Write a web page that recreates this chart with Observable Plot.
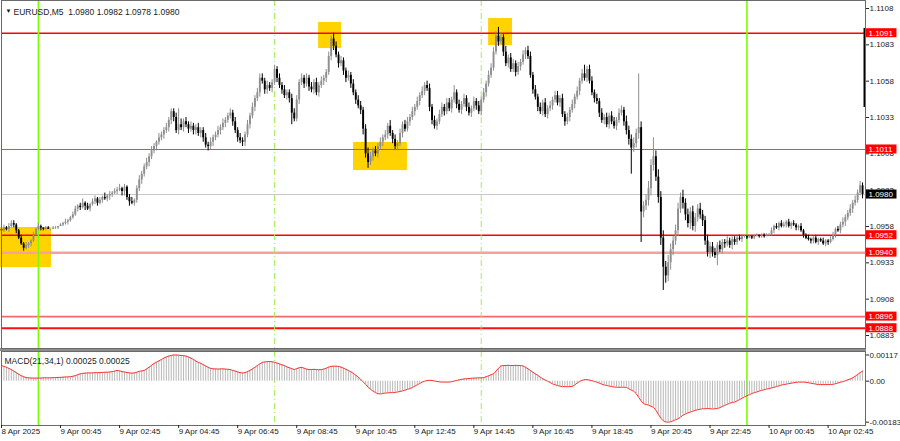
<!DOCTYPE html>
<html>
<head>
<meta charset="utf-8">
<script src="https://cdn.jsdelivr.net/npm/d3@7"></script>
<script src="https://cdn.jsdelivr.net/npm/@observablehq/plot@0.6"></script>
<style>
  html, body { margin: 0; padding: 0; background: #fff; }
  #wrap { width: 900px; height: 441px; overflow: hidden; position: relative; }
  #sep { width: 866px; height: 3px; background: #8c8c8c; }
  svg { display: block; }
</style>
</head>
<body>
<div id="wrap"></div>
<script>
// ---------- DATA ----------
const symbolTitle = "EURUSD,M5  1.0980 1.0982 1.0978 1.0980";
const macdTitle = "MACD(21,34,1) 0.00025 0.00025";
const priceBase = 1.0900;   // closes below are pips above this base (1 pip = 0.0001)
const firstOpen = 56;
// 5-minute closes, bar 0 = 8 Apr 22:45
const closes = [
  55,57,56,58,60,59,55,50,46,43,45,46,48,52,56,58,
  57,56,57,56,56,57,57,58,59,
  60,61,62,64,66,70,72,71,
  74,72,70,73,75,77,74,76,78,77,79,80,
  81,82,83,84,82,85,
  78,75,74,76,
  84,90,94,99,102,106,110,113,
  116,119,121,124,126,
  131,137,133,
  124,128,126,130,128,125,127,124,126,122,124,
  119,114,113,116,
  119,121,124,126,129,131,134,136,
  130,124,119,117,116,
  121,128,134,140,146,150,
  160,
  158,152,155,153,157,
  166,
  160,155,152,148,150,146,
  136,132,
  145,157,160,
  156,160,154,152,157,150,155,158,160,164,
  175,187,182,
  176,170,172,165,160,162,156,
  150,145,141,138,
  125,108,102,
  106,110,108,113,116,119,121,127,
  122,118,113,115,
  122,128,125,130,
  133,137,140,144,148,151,155,153,
  140,131,127,130,
  135,140,137,143,139,145,150,142,
  138,142,146,140,136,139,144,141,137,
  145,150,156,162,167,
  178,189,185,188,
  178,170,174,166,170,164,168,171,
  176,179,175,
  162,152,147,
  140,137,143,135,139,141,
  145,148,143,146,
  135,130,133,
  138,142,147,151,
  158,163,160,166,
  158,150,146,144,
  136,131,133,128,134,130,127,131,
  136,138,130,
  124,118,112,115,
  122,126,
  68,
  72,76,84,
  100,106,
  92,78,
  50,
  30,24,33,
  42,48,55,
  70,78,74,
  66,60,68,58,64,
  70,66,62,
  48,40,
  44,40,38,45,42,47,
  46,48,45,49,47,50,49,51,
  51,50,51,50,51,52,51,52,51,52,52,
  55,58,57,60,58,59,61,58,60,59,57,58,
  55,52,50,49,
  48,50,47,49,48,46,48,47,49,
  52,56,55,59,61,64,67,
  70,74,76,81,86,80
];
// upper / lower wick lengths beyond the body, pips
const wickUp = [
  1,2,1,2,2,1,1,1,2,1, 2,1,1,2,1,2,1,0,1,1, 0,1,1,0,1,1,2,1,1,2, 2,1,2,3,1,2,1,2,2,1,
  2,1,3,1,2,1,2,2,3,1, 2,1,2,3,1,2,3,2,2,3, 2,3,2,1,3,2,2,3,2,2, 2,3,2,4,2,3,2,3,2,2,
  3,2,2,3,2,3,2,2,3,2, 3,2,2,3,2,3,2,3,2,2, 3,2,3,2,3,2,3,2,3,2, 2,3,2,3,2,3,2,2,3,3,
  3,2,3,2,3,2,3,2,3,2, 3,2,2,3,2,2,3,2,3,2, 2,3,2,3,2,3,3,2,3,4, 3,2,3,2,3,2,3,2,4,2,
  3,2,3,2,3,3,2,3,2,3, 2,3,2,3,3,2,3,2,3,3, 2,3,3,2,3,2,3,2,3,2, 3,2,3,2,3,2,3,2,3,3,
  3,3,2,3,2,4,2,3,3,2, 3,2,3,2,3,3,2,3,2,3, 2,3,2,3,2,3,3,2,3,2, 3,2,3,2,3,2,3,3,2,3,
  3,2,3,2,3,2,3,2,3,3, 2,3,3,2,4,3,3,4,3,3, 4,3,4,5,4,3,4,5,4,5, 4,5,4,3,4,4,3,4,3,4,
  3,4,3,3,4,3,3,4,3,3, 3,2,3,2,2,3,2,2,2,1, 2,1,1,1,1,0,1,1,0,1, 1,1,1,2,1,2,1,2,2,1,
  2,1,2,1,1,2,1,1,2,1, 1,2,1,1,2,1,1,2,2,1, 2,2,3,2,2,3,2,3,2,3,2
];
const wickDn = [
  2,1,1,2,1,2,2,1,1,2, 1,2,2,1,1,1,2,1,1,0, 1,0,1,1,0,1,1,2,1,1, 1,2,2,1,3,1,2,1,2,2,
  1,2,1,2,3,2,1,2,1,3, 3,2,3,1,2,2,2,3,2,2, 3,2,2,3,2,2,3,2,3,3, 3,2,3,2,3,2,3,2,3,3,
  2,3,3,2,3,2,3,2,2,3, 2,3,2,2,3,2,3,2,3,3, 2,3,2,3,2,3,2,3,3,2, 3,2,3,2,3,2,3,3,2,2,
  2,3,2,3,2,3,2,3,2,3, 2,3,3,2,3,3,2,3,2,3, 3,2,3,2,3,2,3,4,3,3, 2,3,2,3,2,3,2,3,2,3,
  2,3,2,3,2,2,3,2,3,2, 3,2,3,2,3,3,2,3,2,2, 3,2,2,3,2,3,2,3,2,3, 2,3,2,3,2,3,2,3,2,2,
  2,2,3,2,3,2,3,2,2,3, 2,3,2,3,2,2,3,2,3,2, 3,2,3,2,3,2,2,3,2,3, 2,3,2,3,2,3,2,2,3,2,
  2,3,2,3,2,3,2,3,2,2, 3,2,2,3,3,4,3,3,3,4, 3,4,3,4,5,4,3,4,5,4, 5,4,5,4,3,4,3,4,4,3,
  4,3,4,3,3,4,3,3,4,3, 2,3,2,3,3,2,2,3,2,2, 1,2,1,1,0,1,1,0,1,1, 1,0,1,1,2,1,2,1,1,2,
  1,2,1,2,2,1,2,1,1,2, 2,1,2,1,1,2,2,1,1,2, 1,2,2,3,2,2,3,2,2,2,3
];
// [bar, pip] long wicks
const highSpikes = [[5,62],[70,139],[72,139],[105,163],[111,169],[135,191],[184,155],[202,195],[237,169],[259,163],[265,119],[277,83]];
const lowSpikes  = [[9,41],[118,128],[149,98],[256,94],[260,47],[269,14],[291,31]];

// MACD main = signal (period 1), units of 0.00001
const macd = [
  70,66,62,57,52,45,38,31,25,20,
  16,15,14,14,14,14,14,15,15,15,
  15,16,16,17,17,18,19,19,20,22,
  25,29,33,35,36,37,37,37,38,38,
  39,39,40,40,41,43,45,48,46,43,
  41,39,37,36,37,40,44,46,48,55,
  63,71,79,85,91,97,103,108,112,115,
  117,117,116,115,114,112,108,103,97,90,
  84,80,74,68,62,57,55,55,54,55,
  55,54,53,52,48,45,41,38,37,38,
  43,48,55,62,70,77,84,86,87,88,
  87,84,81,77,73,70,64,60,56,52,
  56,60,62,58,54,52,52,53,52,51,
  52,54,58,63,66,67,67,66,63,58,
  53,48,42,35,27,18,8,-3,-14,-27,
  -36,-44,-51,-56,-57,-55,-53,-52,-51,-51,
  -50,-48,-46,-43,-40,-36,-33,-28,-22,-16,
  -10,-4,0,3,4,3,1,-1,-3,-4,
  -4,-4,-4,-2,1,3,6,8,10,11,
  12,13,14,14,15,15,16,20,24,29,
  33,45,58,68,70,70,71,70,70,71,
  70,70,68,62,55,48,40,33,26,18,
  11,5,0,-6,-12,-16,-19,-22,-24,-24,
  -25,-24,-23,-17,-8,-1,4,7,7,5,
  2,-1,-4,-9,-13,-17,-19,-22,-24,-26,
  -27,-27,-27,-27,-28,-34,-40,-45,-55,-72,
  -88,-101,-104,-107,-112,-116,-130,-148,-165,-177,
  -182,-183,-181,-177,-172,-168,-160,-152,-146,-141,
  -138,-134,-130,-127,-125,-123,-123,-122,-123,-124,
  -123,-122,-118,-113,-108,-103,-98,-95,-93,-88,
  -82,-76,-70,-65,-60,-55,-51,-48,-44,-41,
  -38,-35,-33,-30,-27,-24,-21,-17,-15,-13,
  -11,-9,-7,-5,-4,-4,-4,-5,-7,-9,
  -11,-13,-15,-15,-15,-15,-15,-15,-14,-11,
  -8,-5,-2,2,6,10,15,22,30,38,45
];

const priceTicks = [1.1108,1.1083,1.1058,1.1033,1.1008,1.0983,1.0958,1.0933,1.0908,1.0883];
const levelPrices = [1.1091,1.1011,1.0952,1.0940,1.0896,1.0888];
const currentPrice = 1.0980;
const macdTicks = [117, 0, -183];
const macdTickLabels = ["0.00117", "0.00", "-0.00183"];

const timeTickBars = [0,24,48,72,96,120,144,168,192,216,240,264,288,312,336];
const timeLabels = ["8 Apr 2025","9 Apr 00:45","9 Apr 02:45","9 Apr 04:45","9 Apr 06:45","9 Apr 08:45",
  "9 Apr 10:45","9 Apr 12:45","9 Apr 14:45","9 Apr 16:45","9 Apr 18:45","9 Apr 20:45","9 Apr 22:45",
  "10 Apr 00:45","10 Apr 02:45"];
const daySeparatorBars = [15, 303];      // 00:00
const sessionBars = [111, 195];          // dashed markers
// highlight boxes: [bar1, bar2, pip1, pip2]
const boxes = [[-0.4,20.3,57.3,29.8],[128.9,138.2,198.4,180.5],[143.1,165,115.8,96.5],[198,207.7,201.1,182.5]];
const edgeBar = [194.2, 139.9];          // black marker at right edge (pips)

// ---------- STYLES ----------
const levelColors = ["#ff0000","#f04040","#ff0000","#f7a0a0","#f46a6a","#ff1010"];
const levelWidths = [1.6,1,1.6,2.5,1.6,2.2];
const upColor = "#8e8e8e", downColor = "#000000";
const font = "'Liberation Sans', Arial, sans-serif";

// ---------- BUILD ----------
const toPrice = p => priceBase + p / 10000;
const xMax = 351.2;
const candles = closes.map((c, i) => {
  const o = i === 0 ? firstOpen : closes[i - 1];
  let hi = Math.max(o, c) + wickUp[i], lo = Math.min(o, c) - wickDn[i];
  for (const [k, v] of highSpikes) if (k === i) hi = Math.max(hi, v);
  for (const [k, v] of lowSpikes) if (k === i) lo = Math.min(lo, v);
  return {i, open: toPrice(o), close: toPrice(c), high: toPrice(hi), low: toPrice(lo), up: c >= o};
});
const levels = levelPrices.map((p, k) => ({p, color: levelColors[k], w: levelWidths[k], label: p.toFixed(4)}));
const boxData = boxes.map(([a, b, p1, p2]) => ({x1: a, x2: b, y1: toPrice(p1), y2: toPrice(p2)}));
const macdData = macd.map((v, i) => ({i, v}));

const tagHalf = 0.00031;
const tagX1 = xMax + 0.4, tagX2 = xMax + 12.8;

const pricePlot = Plot.plot({
  width: 900, height: 348,
  marginLeft: 1, marginRight: 35, marginTop: 0, marginBottom: 0,
  style: {fontFamily: font, fontSize: "8px", color: "#222", background: "#fff", overflow: "visible"},
  x: {domain: [0, xMax], axis: null},
  y: {domain: [1.0874059, 1.1113505], axis: null},
  marks: [
    Plot.rect(boxData, {x1: "x1", x2: "x2", y1: "y1", y2: "y2", fill: "#ffd200"}),
    Plot.ruleY([currentPrice], {stroke: "#c8c8c8", strokeWidth: 1}),
    Plot.ruleY(levels, {y: "p", stroke: "color", strokeWidth: "w"}),
    Plot.ruleX(daySeparatorBars, {stroke: "#7cfc00", strokeWidth: 1.6}),
    Plot.ruleX(sessionBars, {stroke: "#a6ec5a", strokeWidth: 1, strokeDasharray: "6,3,1,3"}),
    Plot.ruleX(candles, {x: "i", y1: "low", y2: "high", stroke: d => d.up ? upColor : downColor, strokeWidth: 1}),
    Plot.ruleX(candles, {x: "i", y1: "open", y2: "close", stroke: d => d.up ? upColor : downColor, strokeWidth: 1.9}),
    Plot.ruleX([xMax - 0.4], {y1: toPrice(edgeBar[0]), y2: toPrice(edgeBar[1]), stroke: "#000", strokeWidth: 2}),
    Plot.frame({stroke: "#6a6a6a", strokeWidth: 1}),
    Plot.axisY(priceTicks, {anchor: "right", tickSize: 3, tickPadding: 1, textAnchor: "start",
      tickFormat: d => d.toFixed(4), fontSize: 8, label: null}),
    Plot.rect([currentPrice], {x1: tagX1, x2: tagX2, y1: d => d - tagHalf, y2: d => d + tagHalf, fill: "#000"}),
    Plot.text([currentPrice], {x: tagX1, y: d => d, text: d => d.toFixed(4), fill: "#fff", textAnchor: "start", dx: 2, fontSize: 8}),
    Plot.rect(levels, {x1: tagX1, x2: tagX2, y1: d => d.p - tagHalf, y2: d => d.p + tagHalf, fill: "#ff0000"}),
    Plot.text(levels, {x: tagX1, y: "p", text: "label", fill: "#fff", textAnchor: "start", dx: 2, fontSize: 8}),
    Plot.text(["▼"], {frameAnchor: "top-left", dx: 4, dy: 8, text: d => d, fontSize: 6, fill: "#111", textAnchor: "start"}),
    Plot.text([symbolTitle], {frameAnchor: "top-left", dx: 12, dy: 8, text: d => d, fontSize: 8.5, fill: "#222", textAnchor: "start"})
  ]
});

const macdPlot = Plot.plot({
  width: 900, height: 90,
  marginLeft: 1, marginRight: 35, marginTop: 0, marginBottom: 16,
  style: {fontFamily: font, fontSize: "8px", color: "#222", background: "#fff", overflow: "visible"},
  x: {domain: [0, xMax], axis: null},
  y: {domain: [-197.8, 132.6], axis: null},
  marks: [
    Plot.ruleX(daySeparatorBars, {stroke: "#7cfc00", strokeWidth: 1.6}),
    Plot.ruleX(sessionBars, {stroke: "#a6ec5a", strokeWidth: 1, strokeDasharray: "6,3,1,3"}),
    Plot.ruleX(macdData, {x: "i", y1: 0, y2: "v", stroke: "#b8b8b8", strokeWidth: 1}),
    Plot.line(macdData, {x: "i", y: "v", stroke: "#ff3030", strokeWidth: 1}),
    Plot.frame({stroke: "#6a6a6a", strokeWidth: 1}),
    Plot.axisY(macdTicks, {anchor: "right", tickSize: 3, tickPadding: 1, textAnchor: "start",
      tickFormat: d => macdTickLabels[macdTicks.indexOf(d)], fontSize: 8, label: null}),
    Plot.axisX(timeTickBars, {anchor: "bottom", tickSize: 3, tickPadding: 0, textAnchor: "start",
      tickFormat: d => timeLabels[timeTickBars.indexOf(d)], fontSize: 8, label: null}),
    Plot.text([macdTitle], {frameAnchor: "top-left", dx: 3, dy: 6, text: d => d, fontSize: 8.5, fill: "#222", textAnchor: "start"})
  ]
});

const wrap = document.getElementById("wrap");
wrap.appendChild(pricePlot);
const sep = document.createElement("div");
sep.id = "sep";
wrap.appendChild(sep);
wrap.appendChild(macdPlot);
</script>
</body>
</html>
